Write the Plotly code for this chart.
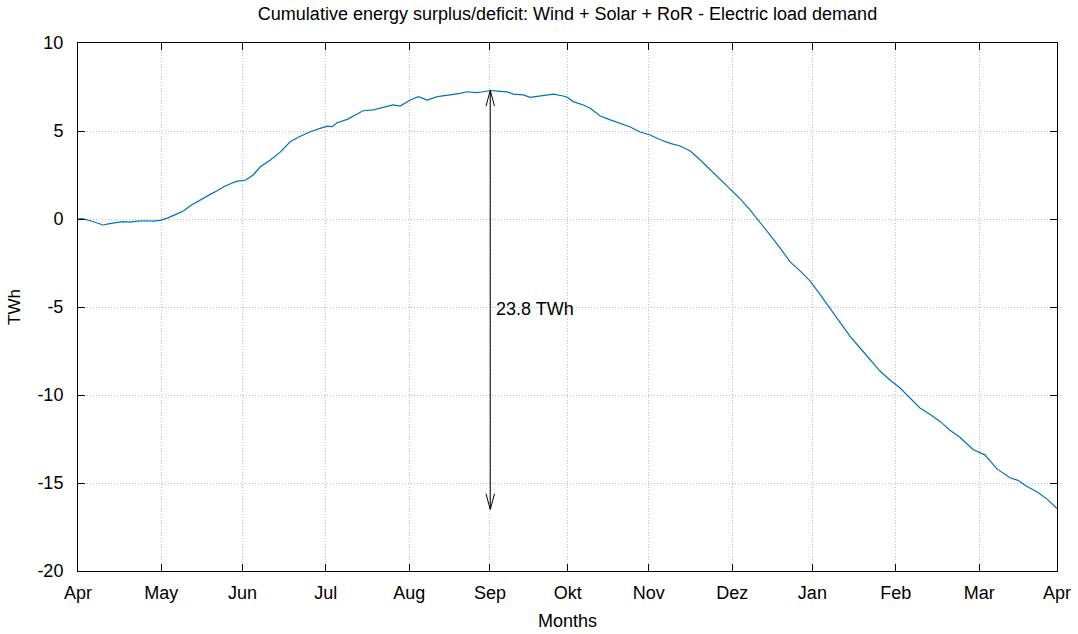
import plotly.graph_objects as go

# Day of year counted from 1 April, and cumulative balance in TWh
days = [0.0, 1.6, 4.6, 7.2, 9.4, 11.3, 13.9, 16.5, 19.5, 22.1, 25.1, 28.1, 30.7,
        33.3, 36.3, 39.3, 41.9, 44.1, 46.7, 49.3, 51.9, 54.5, 56.8, 59.4, 62.4,
        65.3, 68.0, 71.7, 75.4, 79.2, 82.9, 86.6, 90.3, 92.9, 94.8, 96.6, 100.4,
        104.1, 106.3, 110.1, 113.8, 117.5, 120.1, 123.9, 126.9, 130.2, 134.0,
        138.8, 142.5, 145.1, 148.8, 151.1, 153.7, 156.3, 160.0, 162.3, 166.0,
        168.6, 172.3, 174.9, 177.2, 180.9, 182.4, 184.6, 188.4, 191.0, 194.7,
        198.5, 202.2, 205.9, 209.6, 213.3, 217.1, 220.8, 224.5, 228.3, 232.0,
        235.7, 239.4, 243.1, 246.9, 250.6, 254.3, 258.0, 261.8, 265.5, 269.2,
        272.9, 276.7, 280.4, 284.1, 287.8, 291.6, 295.3, 299.0, 302.7, 306.5,
        310.2, 313.9, 317.6, 321.4, 325.1, 328.8, 333.7, 338.1, 342.6, 347.5,
        350.4, 353.8, 357.5, 361.2, 365.0]

balance_twh = [0.0, 0.02, -0.1, -0.25, -0.34, -0.28, -0.2, -0.15, -0.18, -0.12,
               -0.1, -0.12, -0.08, 0.05, 0.25, 0.45, 0.75, 0.95, 1.15, 1.4, 1.6,
               1.85, 2.0, 2.15, 2.2, 2.5, 2.97, 3.35, 3.8, 4.4, 4.7, 4.96, 5.15,
               5.28, 5.25, 5.47, 5.66, 5.97, 6.15, 6.2, 6.35, 6.48, 6.42, 6.76,
               6.95, 6.76, 6.95, 7.05, 7.14, 7.23, 7.18, 7.23, 7.3, 7.27, 7.22,
               7.1, 7.05, 6.91, 6.99, 7.05, 7.1, 6.99, 6.91, 6.67, 6.48, 6.29,
               5.85, 5.63, 5.44, 5.23, 4.94, 4.77, 4.5, 4.3, 4.15, 3.86, 3.35,
               2.8, 2.2, 1.65, 1.14, 0.5, -0.17, -0.9, -1.65, -2.44, -2.95, -3.52,
               -4.3, -5.1, -5.9, -6.65, -7.33, -8.0, -8.64, -9.15, -9.6, -10.17,
               -10.74, -11.1, -11.5, -12.0, -12.4, -13.1, -13.4, -14.2, -14.7,
               -14.85, -15.2, -15.5, -15.9, -16.45]

month_ticks = [0, 31.0, 61.3, 92.4, 123.5, 153.6, 182.6, 212.8, 243.9, 273.8,
               304.9, 336.0, 365]
month_labels = ["Apr", "May", "Jun", "Jul", "Aug", "Sep", "Okt", "Nov", "Dez",
                "Jan", "Feb", "Mar", "Apr"]

y_ticks = [-20, -15, -10, -5, 0, 5, 10]
y_labels = ["-20", "-15", "-10", "-5", "0", "5", "10"]

span_twh = 23.8

FONT = "Liberation Sans, Arial, sans-serif"
LINE_BLUE = "rgb(0,114,189)"

fig = go.Figure()

fig.add_trace(go.Scatter(
    x=days, y=balance_twh, mode="lines",
    line=dict(color=LINE_BLUE, width=1.2),
    hoverinfo="skip",
))

# Double-headed measurement arrow from the peak down by the stated span
peak = max(balance_twh)
x0 = days[balance_twh.index(peak)]
bottom = peak - span_twh
head_len = 0.89   # TWh
head_half = 1.6   # days
arrow_x = [x0 - head_half, x0, x0 + head_half, None, x0, x0, None,
           x0 - head_half, x0, x0 + head_half]
arrow_y = [peak - head_len, peak, peak - head_len, None, peak, bottom, None,
           bottom + head_len, bottom, bottom + head_len]
fig.add_trace(go.Scatter(
    x=arrow_x, y=arrow_y, mode="lines",
    line=dict(color="black", width=1),
    hoverinfo="skip",
))

fig.add_annotation(
    x=x0, y=-5.1, xref="x", yref="y", text=f"{span_twh} TWh",
    showarrow=False, xanchor="left", yanchor="middle", xshift=4,
    font=dict(family=FONT, size=18, color="black"),
)

axis_common = dict(
    showline=True, linecolor="black", linewidth=1, mirror="allticks",
    ticks="inside", ticklen=7, tickcolor="black", tickwidth=1,
    showgrid=True, gridcolor="#bdbdbd", griddash="1px,2px", gridwidth=1,
    zeroline=False, automargin=False,
    tickfont=dict(family=FONT, size=18, color="black"),
)

fig.update_xaxes(
    range=[0, 365], tickmode="array", tickvals=month_ticks,
    ticktext=month_labels, ticklabelstandoff=5,
    title=dict(text="Months", font=dict(family=FONT, size=18, color="black"),
               standoff=12),
    **axis_common,
)
fig.update_yaxes(
    range=[-20, 10], tickmode="array", tickvals=y_ticks, ticktext=y_labels,
    ticklabelstandoff=10,
    title=dict(text="TWh", font=dict(family=FONT, size=17, color="black"),
               standoff=12),
    **axis_common,
)

fig.update_layout(
    width=1078, height=634,
    margin=dict(l=78, r=21, t=43, b=63, autoexpand=False),
    paper_bgcolor="white", plot_bgcolor="white",
    showlegend=False, hovermode=False,
    title=dict(
        text="Cumulative energy surplus/deficit: Wind + Solar + RoR - Electric load demand",
        x=0.5, xref="paper", xanchor="center",
        y=1 - 14 / 634, yref="container", yanchor="middle",
        font=dict(family=FONT, size=18, color="black"),
    ),
)

fig.write_html("out.html")
